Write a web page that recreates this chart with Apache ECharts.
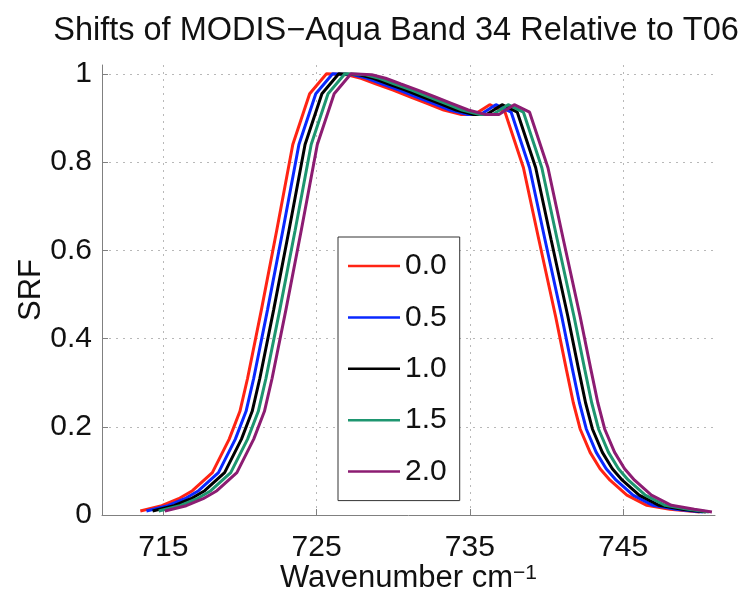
<!DOCTYPE html>
<html><head><meta charset="utf-8">
<script src="https://cdn.jsdelivr.net/npm/echarts@6/dist/echarts.min.js"></script>
<style>html,body{margin:0;padding:0;background:#fff}#c{width:746px;height:599px}</style>
</head><body><div id="c"></div>
<script>
// Legend names (shift amounts)
const shiftNames = ['0.0', '0.5', '1.0', '1.5', '2.0'];
// SRF values (same response shape for each shifted curve)
const srf = [0.009,0.021,0.037,0.055,0.096,0.172,0.235,0.31,0.465,0.645,0.84,0.955,1.0,0.998,0.99,0.977,0.963,0.948,0.933,0.918,0.908,0.908,0.930,0.913,0.787,0.625,0.45,0.33,0.255,0.195,0.142,0.105,0.079,0.045,0.022,0.013,0.007];
// Wavenumbers for each shifted curve
const wn00 = [713.5,714.9,716.0,716.9,718.2,719.3,720.0,720.5,721.4,722.4,723.45,724.55,725.65,727.0,727.9,728.9,730.0,731.1,732.2,733.3,734.4,735.3,736.3,737.3,738.5,739.5,740.6,741.3,741.75,742.2,742.85,743.5,744.15,745.25,746.55,748.05,750.0];
const wn05 = [713.9,715.3,716.4,717.3,718.6,719.7,720.4,720.9,721.8,722.8,723.85,724.95,726.05,727.4,728.3,729.3,730.4,731.5,732.6,733.7,734.8,735.7,736.7,737.7,738.9,739.9,741.0,741.7,742.15,742.6,743.25,743.9,744.55,745.65,746.95,748.45,750.2];
const wn10 = [714.3,715.7,716.8,717.7,719.0,720.1,720.8,721.3,722.2,723.2,724.25,725.35,726.45,727.8,728.7,729.7,730.8,731.9,733.0,734.1,735.2,736.1,737.1,738.1,739.3,740.3,741.4,742.1,742.55,743.0,743.65,744.3,744.95,746.05,747.35,748.85,750.4];
const wn15 = [714.7,716.1,717.2,718.1,719.4,720.5,721.2,721.7,722.6,723.6,724.65,725.75,726.85,728.2,729.1,730.1,731.2,732.3,733.4,734.5,735.6,736.5,737.5,738.5,739.7,740.7,741.8,742.5,742.95,743.4,744.05,744.7,745.35,746.45,747.75,749.25,750.6];
const wn20 = [715.1,716.5,717.6,718.5,719.8,720.9,721.6,722.1,723.0,724.0,725.05,726.15,727.25,728.6,729.5,730.5,731.6,732.7,733.8,734.9,736.0,736.9,737.9,738.9,740.1,741.1,742.2,742.9,743.35,743.8,744.45,745.1,745.75,746.85,748.15,749.65,750.8];
const xTicks = [715, 725, 735, 745];
const yTicks = [0, 0.2, 0.4, 0.6, 0.8, 1];

const wnSets = [wn00, wn05, wn10, wn15, wn20];
const colors = ['#ff2414', '#0a28ff', '#000000', '#1e9670', '#8c1c72'];
const FONT = 'Liberation Sans, Arial, Helvetica, sans-serif';

const chart = echarts.init(document.getElementById('c'), null, {renderer: 'canvas'});
const series = shiftNames.map((name, i) => ({
  name: name,
  type: 'line',
  symbol: 'none',
  showSymbol: false,
  data: wnSets[i].map((x, j) => [x, srf[j]]),
  lineStyle: {color: colors[i], width: 3},
  itemStyle: {color: colors[i]},
  z: 2 + i
}));

const gridLine = {show: true, lineStyle: {color: '#b8b8b8', type: [2, 5], width: 1}};

chart.setOption({
  animation: false,
  backgroundColor: '#fff',
  textStyle: {fontFamily: FONT},
  title: {
    text: 'Shifts of MODIS\u2212Aqua Band 34 Relative to T06',
    left: 391, top: 10, textAlign: 'center',
    textStyle: {fontSize: 32.5, fontWeight: 'normal', color: '#111', fontFamily: FONT}
  },
  grid: {left: 102, right: 31, top: 65, bottom: 79, containLabel: false},
  xAxis: {
    type: 'value', min: 711, max: 751,
    name: 'Wavenumber cm{sup|\u22121}',
    nameLocation: 'middle', nameGap: 48, nameMoveOverlap: false,
    nameTextStyle: {fontSize: 31, color: '#111', fontFamily: FONT,
      rich: {sup: {fontSize: 21, verticalAlign: 'top', lineHeight: 14, color: '#111', fontFamily: FONT}}},
    axisLine: {show: true, lineStyle: {color: '#808080', width: 1}},
    axisTick: {show: true, inside: true, length: 6, customValues: xTicks, lineStyle: {color: '#808080'}},
    axisLabel: {customValues: xTicks, margin: 18, fontSize: 30, color: '#111', fontFamily: FONT},
    splitLine: gridLine
  },
  yAxis: {
    type: 'value', min: 0, max: 1.02,
    name: 'SRF', nameLocation: 'middle', nameGap: 55, nameRotate: 90, nameMoveOverlap: false,
    nameTextStyle: {fontSize: 31, color: '#111', fontFamily: FONT},
    axisLine: {show: true, lineStyle: {color: '#808080', width: 1}},
    axisTick: {show: true, inside: true, length: 6, customValues: yTicks, lineStyle: {color: '#808080'}},
    axisLabel: {customValues: yTicks, margin: 10, fontSize: 30, color: '#111', fontFamily: FONT},
    splitLine: gridLine
  },
  legend: {
    orient: 'vertical', left: 338, top: 237,
    padding: [14, 13, 14, 10],
    icon: 'rect',
    itemWidth: 52, itemHeight: 2.5, itemGap: 21.4,
    backgroundColor: '#fff', borderColor: '#333', borderWidth: 1,
    textStyle: {fontSize: 30, lineHeight: 30, color: '#111', fontFamily: FONT},
    data: shiftNames
  },
  series: series
});
</script></body></html>
